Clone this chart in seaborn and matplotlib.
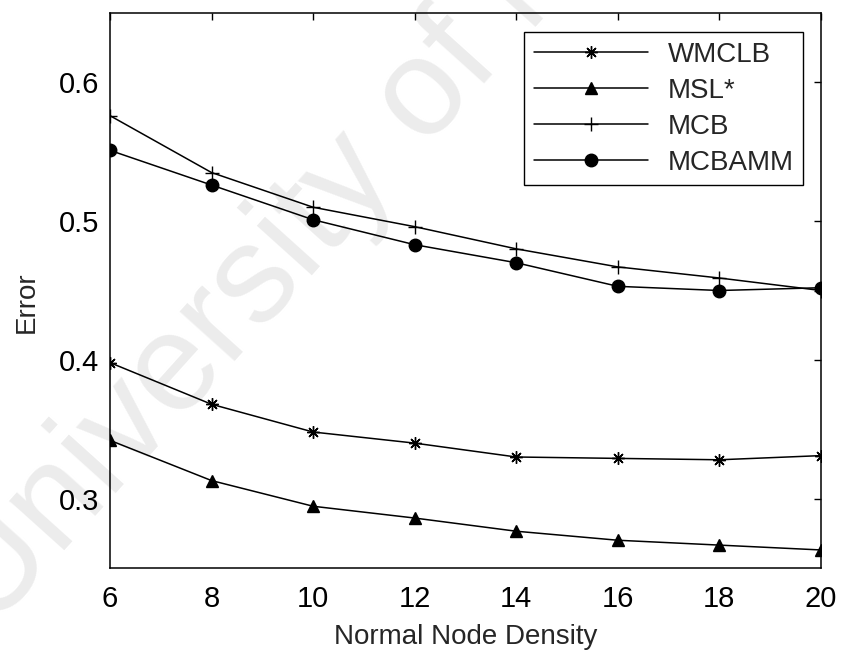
import matplotlib
matplotlib.use("Agg")
import matplotlib.pyplot as plt
import seaborn as sns
import pandas as pd

density = [6, 8, 10, 12, 14, 16, 18, 20]
wmclb = [0.398, 0.368, 0.348, 0.340, 0.330, 0.329, 0.328, 0.331]
msl = [0.342, 0.313, 0.2945, 0.286, 0.2765, 0.270, 0.2665, 0.263]
mcb = [0.576, 0.535, 0.510, 0.496, 0.480, 0.467, 0.459, 0.450]
mcbamm = [0.551, 0.526, 0.501, 0.483, 0.470, 0.453, 0.450, 0.452]

names = ["WMCLB", "MSL*", "MCB", "MCBAMM"]
values = [wmclb, msl, mcb, mcbamm]
x_ticks = [6, 8, 10, 12, 14, 16, 18, 20]
y_ticks = [0.3, 0.4, 0.5, 0.6]

sns.set_style("white")
plt.rcParams["font.family"] = ["Liberation Sans", "DejaVu Sans"]

df = pd.concat(
    [pd.DataFrame({"Normal Node Density": density, "Error": v, "Method": n})
     for n, v in zip(names, values)],
    ignore_index=True,
)

fig = plt.figure(figsize=(8.41, 6.51), dpi=100)
fig.patch.set_facecolor("white")
ax = fig.add_axes([110 / 841, 1 - 568 / 651, 711 / 841, 555 / 651])
ax.set_facecolor("none")
ax.set_zorder(1)

# faint watermark
fig.text(-35 / 841, 1 - 608 / 651, "University of Malaya", rotation=48,
         rotation_mode="anchor", fontsize=100, color="#ececec",
         ha="left", va="center", zorder=0.5, clip_on=False,
         family=["Liberation Sans", "DejaVu Sans"])

markers = {"WMCLB": (8, 2, 0), "MSL*": "^", "MCB": "+", "MCBAMM": "o"}
sizes = {"WMCLB": 9, "MSL*": 9, "MCB": 10, "MCBAMM": 9}
for n in names:
    sub = df[df["Method"] == n]
    sns.lineplot(data=sub, x="Normal Node Density", y="Error", ax=ax,
                 color="black", linewidth=1.1, marker=markers[n],
                 markersize=sizes[n], markerfacecolor="black",
                 markeredgecolor="black", markeredgewidth=1.0, label=n)

ax.set_xlim(6, 20)
ax.set_ylim(0.25, 0.65)
ax.set_xticks(x_ticks)
ax.set_yticks(y_ticks)
ax.set_xticklabels([str(t) for t in x_ticks])
ax.set_yticklabels([f"{t:.1f}" for t in y_ticks])
ax.tick_params(direction="in", length=5, width=1, top=True, right=True,
               labelsize=21, colors="black")
ax.tick_params(axis="x", pad=12)
ax.tick_params(axis="y", pad=8)
for s in ax.spines.values():
    s.set_visible(True)
    s.set_color("black")
    s.set_linewidth(1.1)
ax.set_xlabel("Normal Node Density", fontsize=20, labelpad=8)
ax.set_ylabel("Error", fontsize=20, va="center")
ax.yaxis.set_label_coords(-0.117, 0.479)

leg = ax.legend(loc="upper right", bbox_to_anchor=(0.975, 0.966),
                frameon=True, fancybox=False, edgecolor="black",
                framealpha=1, fontsize=20, handlelength=4.1,
                handletextpad=0.7, labelspacing=0.36, borderpad=0.35,
                borderaxespad=0)
leg.get_frame().set_linewidth(1.0)

fig.savefig("out.png", dpi=100)
